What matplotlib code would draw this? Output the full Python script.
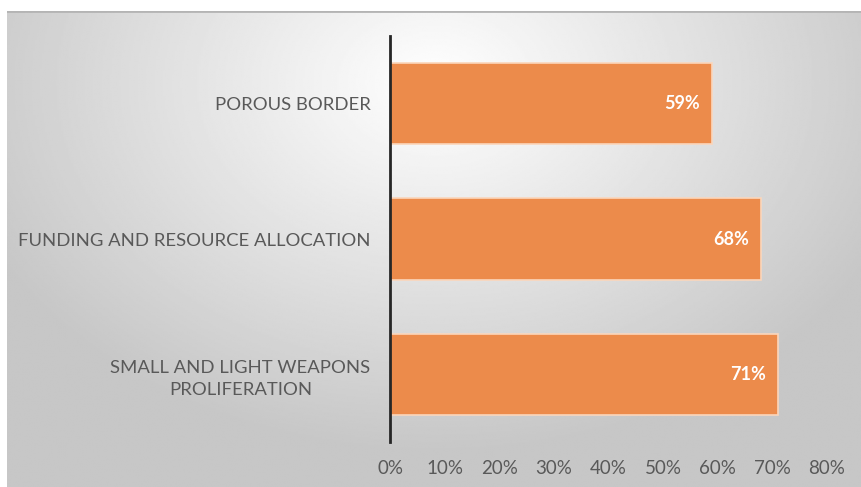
import numpy as np
import matplotlib.pyplot as plt

categories = ['SMALL AND LIGHT WEAPONS\nPROLIFERATION',
              'FUNDING AND RESOURCE ALLOCATION',
              'POROUS BORDER']
values = [0.71, 0.68, 0.59]
value_labels = ['71%', '68%', '59%']
tick_values = [0, 0.1, 0.2, 0.3, 0.4, 0.5, 0.6, 0.7, 0.8]
tick_labels = ['0%', '10%', '20%', '30%', '40%', '50%', '60%', '70%', '80%']

plt.rcParams['font.family'] = ['Lato', 'DejaVu Sans']

fig = plt.figure(figsize=(8.61, 4.87), dpi=100)
fig.patch.set_facecolor('white')

# gradient background panel
bg = fig.add_axes([7 / 861, 0, 1 - 7 / 861, 1 - 11 / 487])
ny, nx = 300, 500
yy, xx = np.mgrid[0:ny, 0:nx]
cx, cy = 0.5 * nx, 0.15 * ny
r = np.sqrt(((xx - cx) / nx) ** 2 + ((yy - cy) / ny * 0.75) ** 2)
shade = np.clip(1.0 - r * 0.38, 0.78, 1.0)
bg.imshow(shade, cmap='gray', vmin=0, vmax=1, aspect='auto',
          extent=[0, 1, 0, 1], interpolation='bilinear')
bg.axhline(1, color='#b4b4b4', lw=2)
bg.set_xlim(0, 1)
bg.set_ylim(0, 1)
bg.axis('off')

ax = fig.add_axes([390 / 861, 1 - 442 / 487, (827 - 390) / 861, (442 - 36) / 487])
ax.patch.set_alpha(0)
y = np.arange(len(categories))
ax.barh(y, values, height=0.6, color='#ec8b4b', edgecolor='#fbd6bb', linewidth=1.2)
for yi, v, lab in zip(y, values, value_labels):
    ax.text(v - 0.022, yi, lab, ha='right', va='center', color='white',
            fontsize=13, fontweight='bold')

ax.set_xlim(0, 0.8)
ax.set_ylim(-0.5, 2.5)
ax.set_xticks(tick_values)
ax.set_xticklabels(tick_labels)
ax.set_yticks(y)
ax.set_yticklabels(categories, multialignment='center', linespacing=1.45)
ax.tick_params(axis='both', length=0, colors='#595959')
ax.tick_params(axis='x', pad=13, labelsize=13.5)
ax.tick_params(axis='y', pad=14, labelsize=13.3)
for s in ['top', 'right', 'bottom']:
    ax.spines[s].set_visible(False)
ax.spines['left'].set_color('#262626')
ax.spines['left'].set_linewidth(2)

fig.savefig('out.png', dpi=100)
